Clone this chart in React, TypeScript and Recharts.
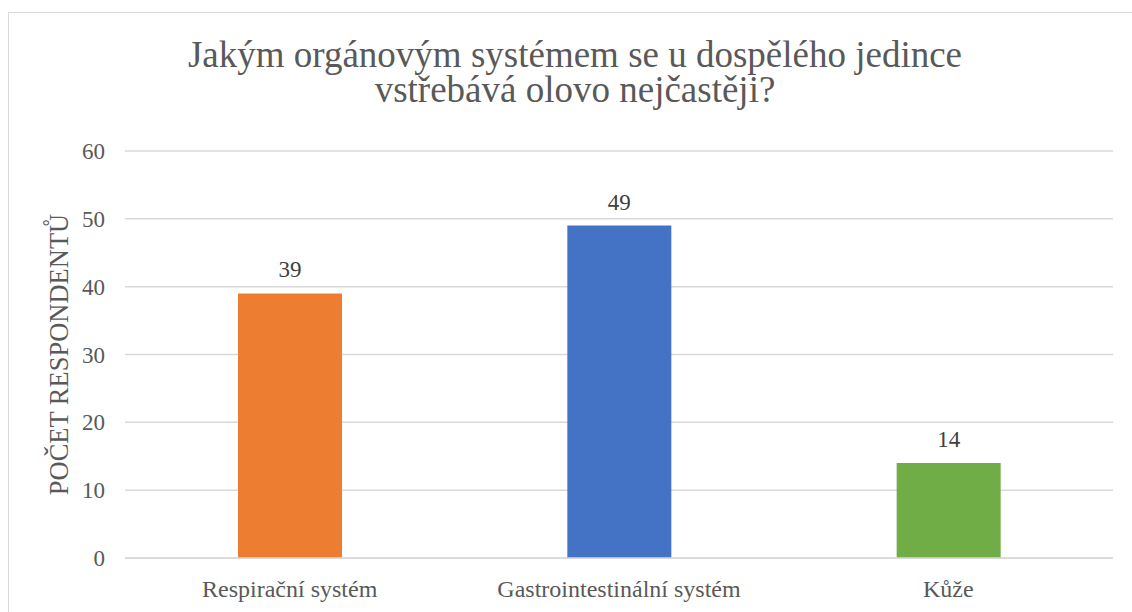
import { BarChart, Bar, XAxis, YAxis, CartesianGrid, Cell, LabelList } from "recharts";

const categories = ["Respirační systém", "Gastrointestinální systém", "Kůže"];
const respondents = [39, 49, 14];
const barColors = ["#ED7D31", "#4472C4", "#70AD47"];
const yTicks = [0, 10, 20, 30, 40, 50, 60];

const titleLines = ["Jakým orgánovým systémem se u dospělého jedince", "vstřebává olovo nejčastěji?"];
const yLabel = "POČET RESPONDENTŮ";

const FONT = "Liberation Serif, DejaVu Serif, serif";

const data = categories.map((name, i) => ({ name, value: respondents[i] }));

export default function App() {
  return (
    <div
      style={{
        position: "absolute",
        left: 0,
        top: 0,
        width: 1132,
        height: 612,
        overflow: "hidden",
        background: "#fff",
        fontFamily: FONT,
      }}
    >
      {/* chart frame */}
      <div
        style={{
          position: "absolute",
          left: 8,
          top: 12,
          width: 1200,
          height: 700,
          borderLeft: "1px solid #d9d9d9",
          borderTop: "1px solid #d9d9d9",
        }}
      />

      {/* Title */}
      <div
        style={{
          position: "absolute",
          left: 0,
          top: 37,
          width: 1150,
          textAlign: "center",
          fontSize: 37,
          lineHeight: "35px",
          color: "#595959",
        }}
      >
        {titleLines.map((t) => (
          <div key={t}>{t}</div>
        ))}
      </div>

      <div style={{ position: "absolute", left: 0, top: 0 }}>
        <BarChart
          width={1132}
          height={612}
          data={data}
          margin={{ top: 151, right: 19, bottom: 0, left: 0 }}
        >
          <CartesianGrid vertical={false} stroke="#d9d9d9" strokeWidth={1.5} />
          <XAxis
            dataKey="name"
            height={54}
            axisLine={{ stroke: "#d9d9d9", strokeWidth: 1.5 }}
            tickLine={false}
            tickSize={0}
            tickMargin={22}
            tick={{ fill: "#595959", fontSize: 24, fontFamily: FONT }}
          />
          <YAxis
            width={125}
            domain={[0, 60]}
            ticks={yTicks}
            axisLine={false}
            tickLine={false}
            tickSize={0}
            tickMargin={20}
            tick={{ fill: "#595959", fontSize: 23, fontFamily: FONT }}
            label={{
              value: yLabel,
              angle: -90,
              position: "center",
              dx: -4,
              fill: "#595959",
              fontSize: 26.5,
              fontFamily: FONT,
            }}
          />
          <Bar dataKey="value" barSize={104} isAnimationActive={false}>
            {data.map((d, i) => (
              <Cell key={d.name} fill={barColors[i]} />
            ))}
            <LabelList
              dataKey="value"
              position="top"
              offset={16}
              fill="#404040"
              fontSize={23}
              fontFamily={FONT}
            />
          </Bar>
        </BarChart>
      </div>
    </div>
  );
}
